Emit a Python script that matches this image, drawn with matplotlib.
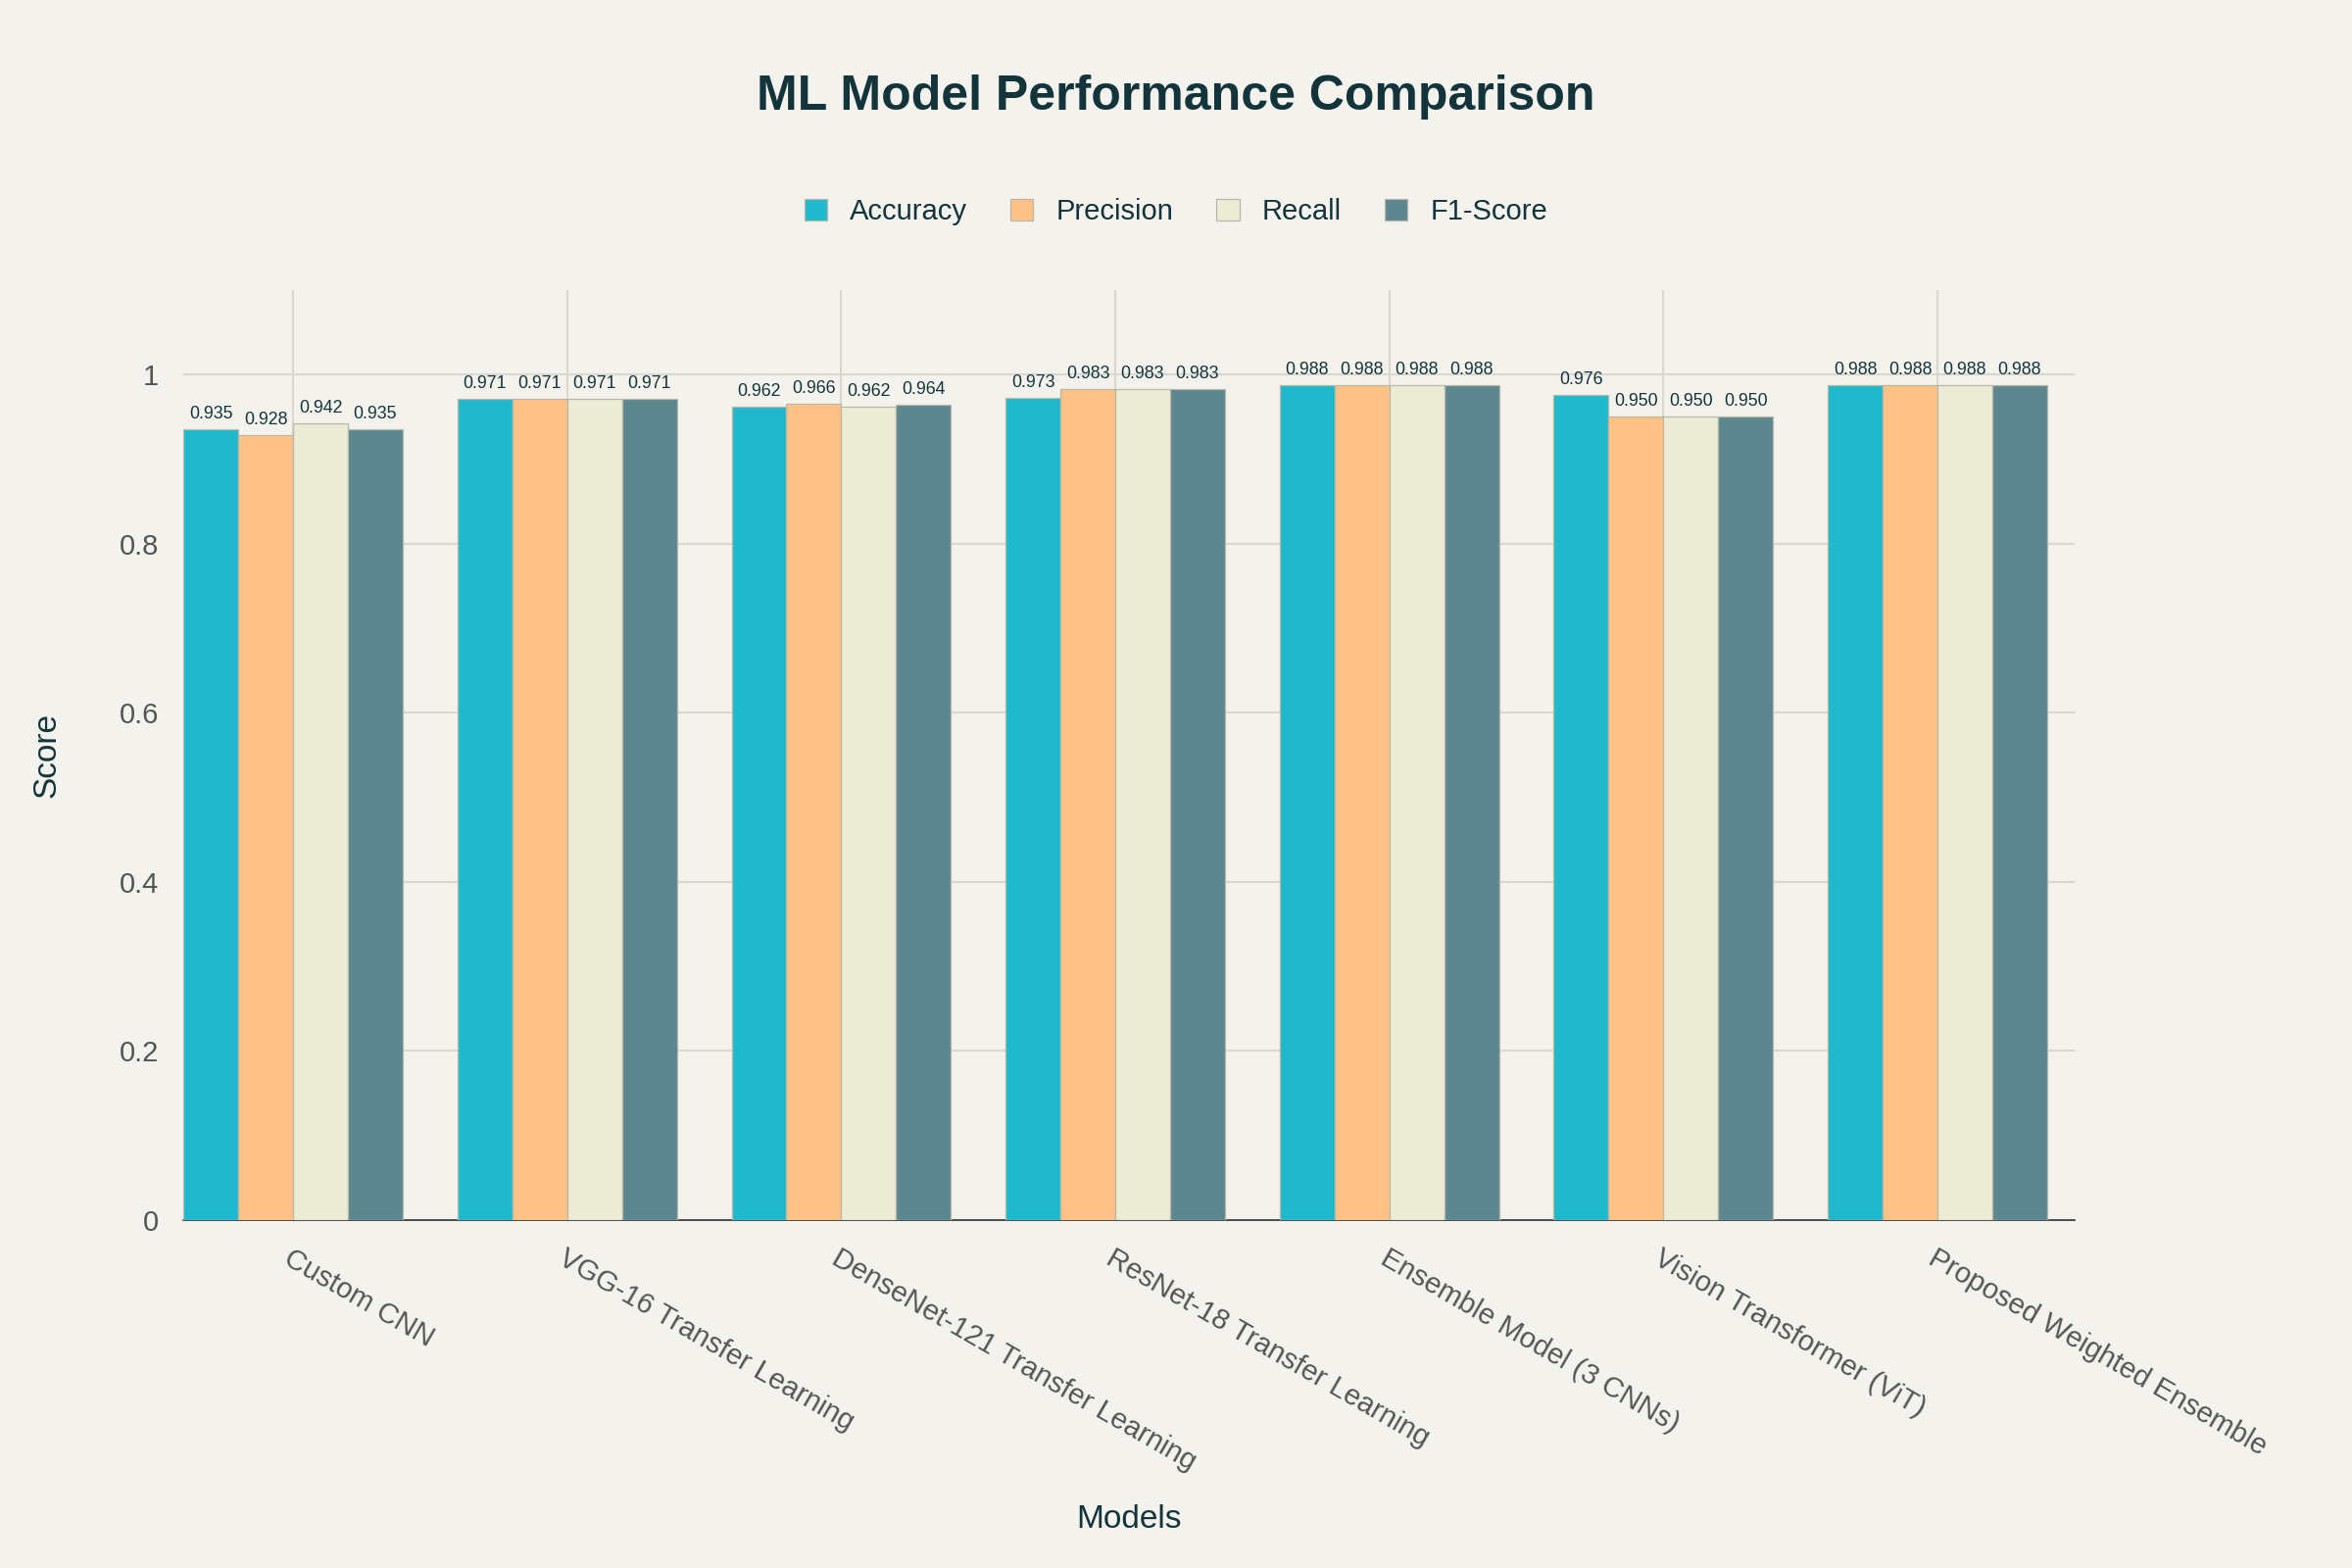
import numpy as np
import matplotlib.pyplot as plt

models = ["Custom CNN", "VGG-16 Transfer Learning", "DenseNet-121 Transfer Learning",
          "ResNet-18 Transfer Learning", "Ensemble Model (3 CNNs)", "Vision Transformer (ViT)",
          "Proposed Weighted Ensemble"]
accuracy = [0.935, 0.971, 0.962, 0.973, 0.988, 0.976, 0.988]
precision = [0.928, 0.971, 0.966, 0.983, 0.988, 0.950, 0.988]
recall = [0.942, 0.971, 0.962, 0.983, 0.988, 0.950, 0.988]
f1 = [0.935, 0.971, 0.964, 0.983, 0.988, 0.950, 0.988]
series = [("Accuracy", accuracy, "#1FB8CD"), ("Precision", precision, "#FFC185"),
          ("Recall", recall, "#ECEBD5"), ("F1-Score", f1, "#5D878F")]

bg = "#F3F2EC"
dark = "#13343B"
plt.rcParams['font.family'] = ['Liberation Sans', 'DejaVu Sans']
fig = plt.figure(figsize=(16, 10.667), dpi=150, facecolor=bg)
ax = fig.add_axes([0.078, 0.222, 0.804, 0.593], facecolor=bg)

x = np.arange(len(models))
w = 0.2
for i, (name, vals, col) in enumerate(series):
    pos = x + (i - 1.5) * w
    ax.bar(pos, vals, w, color=col, edgecolor="#B8B8A8", linewidth=0.6, label=name, zorder=3)
    for p, v in zip(pos, vals):
        ax.text(p, v + 0.008, f"{v:.3f}", ha="center", va="bottom", fontsize=8.5, color=dark)

ax.set_ylim(0, 1.1)
ax.set_xlim(-0.4, len(models) - 0.5)
ax.set_yticks([0, 0.2, 0.4, 0.6, 0.8, 1.0])
ax.set_yticklabels(["0", "0.2", "0.4", "0.6", "0.8", "1"])
ax.set_xticks(x)
ax.set_xticklabels(models, rotation=-30, ha="left", rotation_mode="anchor")
ax.tick_params(axis="both", length=0, labelsize=14, colors="#555555", pad=12)
ax.grid(True, color="#D8D8D0", linewidth=1, zorder=0)
for s in ["top", "right", "left"]:
    ax.spines[s].set_visible(False)
ax.spines["bottom"].set_color("#333333")
ax.set_ylabel("Score", fontsize=16, color=dark, labelpad=28)
ax.set_xlabel("Models", fontsize=16, color=dark, labelpad=14)

fig.text(0.5, 0.938, "ML Model Performance Comparison", ha="center", va="center",
         fontsize=24, fontweight="bold", color=dark)
fig.legend(loc="center", bbox_to_anchor=(0.5, 0.865), ncol=4, frameon=False,
           fontsize=14, handlelength=0.8, handleheight=0.8, columnspacing=1.5, labelcolor=dark)

fig.savefig("out.png", dpi=150, facecolor=bg)
